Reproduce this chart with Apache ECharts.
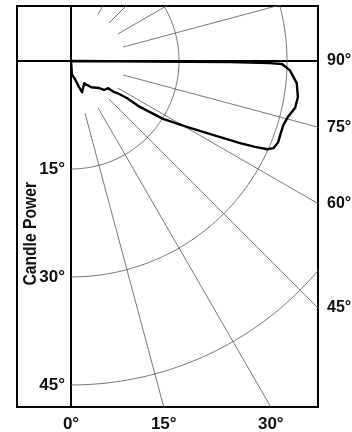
<!DOCTYPE html>
<html><head><meta charset="utf-8">
<script src="https://cdn.jsdelivr.net/npm/echarts@6/dist/echarts.min.js"></script>
<style>html,body{margin:0;padding:0;background:#fff}#c{width:352px;height:432px}</style>
</head><body><div id="c"></div>
<script>
// Candle power curve: angle (deg from nadir, toward the right) and radius (chart units)
const curveAngles = [90, 89.6, 89.6, 89.4, 89.2, 87.6, 84.4, 81.0, 78.2, 75.5, 73.2, 71.1, 68.6, 66.7, 65.8, 65.0, 64.1, 62.5, 60.4, 57.8, 56.3, 56.5, 55.2, 54.2, 53.9, 48.7, 46.0, 37.6, 30.6, 19.5, 17.1, 12.5, 4.1, 0, 0];
const curveRadii  = [0, 11.0, 22.1, 27.6, 29.3, 30.4, 31.5, 31.9, 31.8, 31.1, 30.8, 30.8, 30.9, 30.6, 29.9, 28.2, 26.1, 22.2, 18.5, 15.1, 11.5, 9.3, 7.8, 7.4, 6.4, 6.1, 5.4, 4.6, 3.6, 4.6, 3.8, 2.6, 1.9, 1.7, 0];
// grid rings (radius) and their labels
const ringRadii = [15, 30, 45];
const ringLabels = ['15°', '30°', '45°'];
// radial grid lines (deg)
const radialAngles = [15, 30, 45, 60, 75, 105, 120, 135, 150];
// angle labels
const bottomAngles = [0, 15, 30];
const bottomLabels = ['0°', '15°', '30°'];
const rightAngles = [90, 75, 60, 45];
const rightLabels = ['90°', '75°', '60°', '45°'];

const X_MIN = -7.5, X_MAX = 34.3, Y_MIN = -48.06, Y_MAX = 7.64;
const RAD = Math.PI / 180;
function pt(a, r) { return [r * Math.sin(a * RAD), -r * Math.cos(a * RAD)]; }

const FONT = "'Liberation Sans', Arial, sans-serif";
const labelStyle = { fontFamily: FONT, fontWeight: 'bold', fontSize: 17, color: '#111' };

const series = [];
ringRadii.forEach(r => {
  const d = [];
  for (let a = 0; a <= 180; a += 1) d.push(pt(a, r));
  series.push({ type: 'line', data: d, showSymbol: false, silent: true, clip: true,
    lineStyle: { color: '#555', width: 0.8 }, z: 1 });
});
radialAngles.forEach(a => {
  series.push({ type: 'line', data: [pt(a, 7.5), pt(a, 90)], showSymbol: false, silent: true, clip: true,
    lineStyle: { color: '#555', width: 0.8 }, z: 1 });
});
series.push({ type: 'line', data: curveAngles.map((a, i) => pt(a, curveRadii[i])),
  showSymbol: false, clip: true, lineStyle: { color: '#000', width: 2.4, join: 'round' }, z: 5 });

const leftVals = ringRadii.map(r => -r);
const bottomVals = bottomAngles.map(a => -Y_MIN * Math.tan(a * RAD));
const rightVals = rightAngles.map(a => a === 90 ? 0 : -X_MAX / Math.tan(a * RAD));
function lookup(vals, labels) {
  return v => { for (let i = 0; i < vals.length; i++) if (Math.abs(vals[i] - v) < 1e-6) return labels[i]; return ''; };
}

const chart = echarts.init(document.getElementById('c'), null, { renderer: 'canvas' });
chart.setOption({
  animation: false,
  backgroundColor: '#fff',
  grid: { left: 17, right: 34, top: 6, bottom: 25, show: true, borderColor: '#000', borderWidth: 2,
    containLabel: false, outerBoundsMode: 'none' },
  xAxis: [
    { type: 'value', min: X_MIN, max: X_MAX, position: 'top',
      axisLine: { show: true, onZero: true, onZeroAxisIndex: 0, lineStyle: { color: '#000', width: 2 } },
      axisTick: { show: false }, axisLabel: { show: false }, splitLine: { show: false } },
    { type: 'value', min: X_MIN, max: X_MAX, position: 'bottom',
      axisLine: { show: false, onZero: false }, axisTick: { show: false }, splitLine: { show: false },
      axisLabel: Object.assign({ show: true, customValues: bottomVals, formatter: lookup(bottomVals, bottomLabels), margin: 9 }, labelStyle) }
  ],
  yAxis: [
    { type: 'value', min: Y_MIN, max: Y_MAX, position: 'left',
      axisLine: { show: true, onZero: true, onZeroAxisIndex: 0, lineStyle: { color: '#000', width: 2 } },
      axisTick: { show: false }, splitLine: { show: false },
      axisLabel: Object.assign({ show: true, customValues: leftVals, formatter: lookup(leftVals, ringLabels), margin: -48, align: 'right' }, labelStyle) },
    { type: 'value', min: Y_MIN, max: Y_MAX, position: 'right',
      axisLine: { show: false, onZero: false }, axisTick: { show: false }, splitLine: { show: false },
      axisLabel: Object.assign({ show: true, customValues: rightVals, formatter: lookup(rightVals, rightLabels), margin: 9 }, labelStyle, { fontSize: 16 }) }
  ],
  graphic: [{ type: 'text', left: 22, top: 182, rotation: Math.PI / 2, scaleX: 0.87,
    style: { text: 'Candle Power', font: "bold 18px " + FONT, fill: '#111' } }],
  series: series
});
</script></body></html>
